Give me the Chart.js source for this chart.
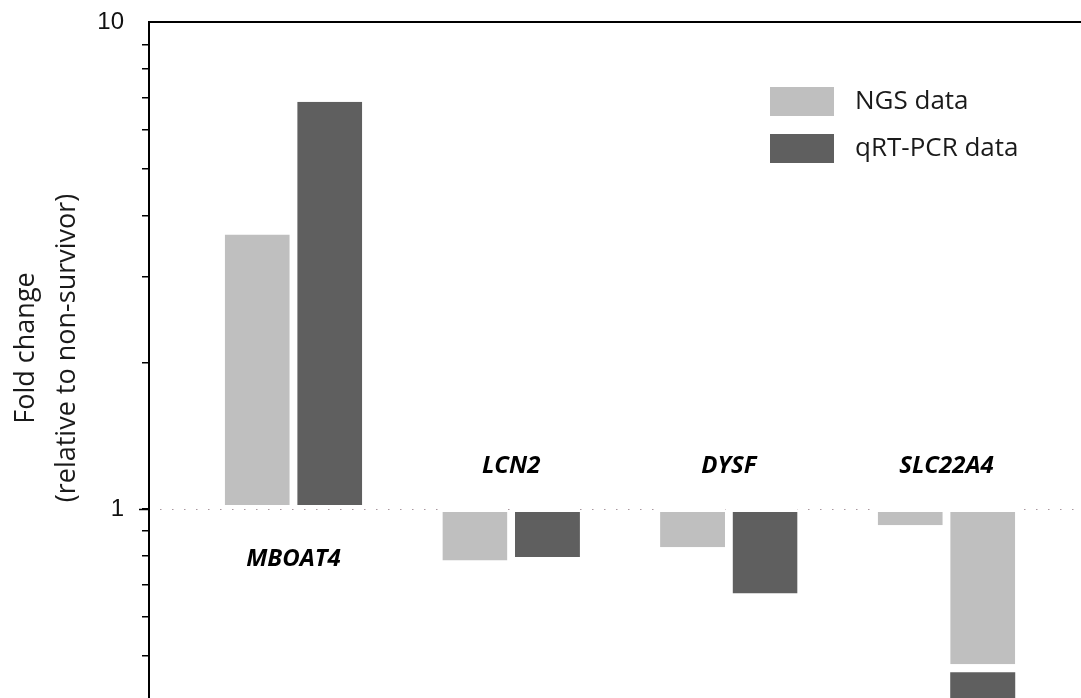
<!DOCTYPE html>
<html>
<head>
<meta charset="utf-8">
<title>Fold change: NGS vs qRT-PCR</title>
<script src="https://cdn.jsdelivr.net/npm/chart.js@4/dist/chart.umd.min.js"></script>
<style>
  html, body { margin: 0; padding: 0; background: #fff; }
  #wrap { position: relative; width: 1081px; height: 698px; }
</style>
</head>
<body>
<div id="wrap"><canvas id="chart"></canvas></div>
<script>
/* Fold change of four genes, NGS vs qRT-PCR, log scale around 1. */
(function () {
  'use strict';

  // genes and where they sit on the x axis
  var GENES  = ['MBOAT4', 'LCN2', 'DYSF', 'SLC22A4'];
  var GENE_X = [1, 2, 3, 4];

  // fold change values (relative to non-survivor)
  var NGS  = [3.66, 0.784, 0.834, 0.926];
  var QPCR = [6.86, 0.797, 0.670, null];

  // SLC22A4 qRT-PCR is off scale: drawn as a broken bar
  var BREAK_UPPER = [1, 0.48];
  var BREAK_LOWER = [0.462, 0.2];

  var Y_LABELED = [1, 10];

  var LIGHT = '#bfbfbf';
  var DARK  = '#5f5f5f';

  function floating(values) {
    return values.map(function (v, i) {
      return { x: GENE_X[i], y: v === null ? null : [1, v] };
    });
  }

  // white gap between bar and the 1-line, on the base side only
  function baseGap(ctx) {
    var r = ctx.raw && ctx.raw.y;
    if (!r || r[0] !== 1) return 0;
    return r[1] > r[0] ? { top: 0, bottom: 4, left: 0, right: 0 }
                       : { top: 3, bottom: 0, left: 0, right: 0 };
  }

  var common = {
    borderColor: '#ffffff',
    borderWidth: baseGap,
    borderSkipped: false,
    categoryPercentage: 0.666,
    barPercentage: 0.897,
  };

  var datasets = [
    Object.assign({ label: 'NGS data', stack: 'ngs', backgroundColor: LIGHT, data: floating(NGS) }, common),
    Object.assign({ label: 'qRT-PCR data', stack: 'qpcr', backgroundColor: DARK,
      data: floating(QPCR).map(function (d, i) {
        return i === 3 ? { x: GENE_X[3], y: BREAK_LOWER } : d;
      }) }, common),
    Object.assign({ label: 'break', stack: 'qpcr', backgroundColor: LIGHT, legend: false,
      data: [{ x: GENE_X[3], y: BREAK_UPPER }] }, common),
  ];

  var overlay = {
    id: 'overlay',
    beforeDatasetsDraw: function (chart) {
      var ctx = chart.ctx, a = chart.chartArea;
      var y1 = Math.round(chart.scales.y.getPixelForValue(1)) + 0.5;
      ctx.save();
      ctx.strokeStyle = '#a8979f';
      ctx.lineWidth = 1;
      ctx.setLineDash([1.5, 10.5]);
      ctx.beginPath();
      ctx.moveTo(a.left + 11, y1);
      ctx.lineTo(a.right, y1);
      ctx.stroke();
      ctx.restore();
    },
    afterDraw: function (chart) {
      var ctx = chart.ctx, a = chart.chartArea;
      var xs = chart.scales.x, ys = chart.scales.y;
      var y1 = ys.getPixelForValue(1);

      ctx.save();
      // top frame line
      ctx.strokeStyle = '#000';
      ctx.lineWidth = 2;
      ctx.beginPath();
      ctx.moveTo(a.left - 1, a.top);
      ctx.lineTo(a.right, a.top);
      ctx.stroke();

      // longer tick at 1
      ctx.lineWidth = 1.5;
      ctx.beginPath();
      ctx.moveTo(a.left - 10, Math.round(y1) + 0.5);
      ctx.lineTo(a.left, Math.round(y1) + 0.5);
      ctx.stroke();

      // gene names, on the side opposite to the bars
      ctx.fillStyle = '#000';
      ctx.font = 'italic bold 24px "Open Sans"';
      ctx.textAlign = 'center';
      ctx.textBaseline = 'middle';
      GENES.forEach(function (g, i) {
        var gx = xs.getPixelForValue(GENE_X[i]);
        var gy = NGS[i] > 1 ? y1 + 50 : y1 - 43;
        ctx.fillText(g, gx, gy);
      });

      // legend
      ctx.font = '26px "Open Sans"';
      ctx.textAlign = 'left';
      chart.data.datasets.filter(function (d) { return d.legend !== false; })
        .forEach(function (d, i) {
          var top = 87 + i * 47;
          ctx.fillStyle = d.backgroundColor;
          ctx.fillRect(770, top, 64, 29);
          ctx.fillStyle = '#1a1a1a';
          ctx.fillText(d.label, 855, top + 15);
        });

      // y axis title, two lines
      ctx.font = '27px "Open Sans"';
      ctx.translate(0, 348);
      ctx.rotate(-Math.PI / 2);
      ctx.textAlign = 'center';
      ctx.fillStyle = '#1a1a1a';
      ctx.fillText('Fold change', 0, 26);
      ctx.fillText('(relative to non-survivor)', 0, 67);
      ctx.restore();
    },
  };

  new Chart(document.getElementById('chart'), {
    type: 'bar',
    data: { datasets: datasets },
    options: {
      responsive: true,
      maintainAspectRatio: false,
      animation: false,
      layout: { padding: { top: 22, right: 0, bottom: 0, left: 0 } },
      plugins: { legend: { display: false }, tooltip: { enabled: false } },
      scales: {
        x: {
          type: 'linear',
          display: false,
          offset: false,
          min: 0.3362,
          max: 4.618,
          afterBuildTicks: function (s) {
            s.ticks = GENE_X.map(function (v) { return { value: v }; });
          },
        },
        y: {
          type: 'logarithmic',
          stacked: false,
          min: 0.409,
          max: 10,
          border: { display: true, color: '#000', width: 2 },
          grid: {
            drawOnChartArea: false,
            drawTicks: true,
            tickLength: 7,
            lineWidth: 1.5,
            tickColor: function (c) {
              return c.tick && c.tick.value === 10 ? 'rgba(0,0,0,0)' : '#000';
            },
          },
          afterBuildTicks: function (s) {
            s.ticks = s.ticks.filter(function (t) {
              var m = t.value / Math.pow(10, Math.floor(Math.log10(t.value) + 1e-9));
              return Math.abs(m - Math.round(m)) < 1e-6;
            });
          },
          ticks: {
            autoSkip: false,
            padding: 18,
            color: '#111',
            font: { family: '"Liberation Sans", Arial', size: 24 },
            callback: function (v) {
              return Y_LABELED.indexOf(v) >= 0 ? String(v) : '';
            },
          },
          afterFit: function (s) {
            s.width = 149;
            s.paddingTop = 0;
            s.paddingBottom = 0;
          },
        },
      },
    },
    plugins: [overlay],
  });
})();
</script>
</body>
</html>
